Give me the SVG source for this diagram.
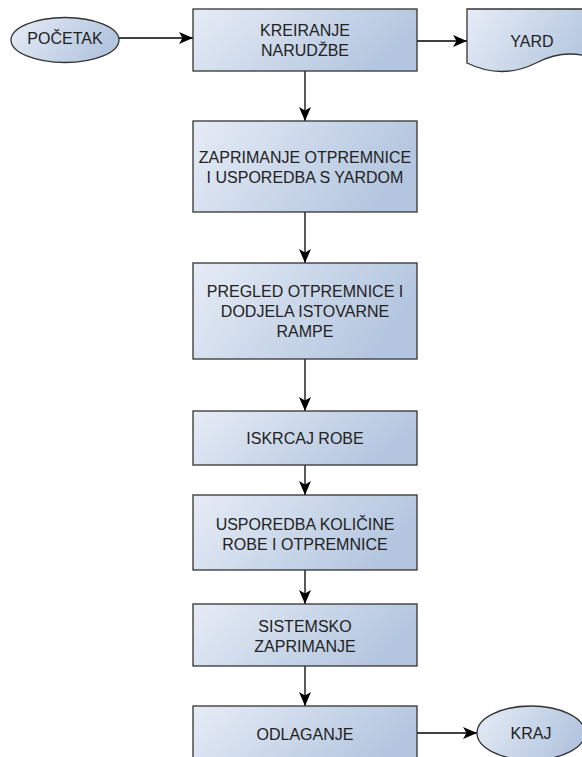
<svg xmlns="http://www.w3.org/2000/svg" width="582" height="757" viewBox="0 0 582 757">
<defs>
<linearGradient id="g" x1="0" y1="0" x2="1" y2="0.3">
<stop offset="0" stop-color="#e6ecf6"/>
<stop offset="1" stop-color="#b4c6df"/>
</linearGradient>
<marker id="ah" viewBox="0 0 14 12" refX="14" refY="6" markerWidth="14" markerHeight="12" markerUnits="userSpaceOnUse" orient="auto">
<path d="M0,0 L14,6 L0,12 L3.5,6 Z" fill="#000"/>
</marker>
</defs>
<style>
.n{fill:url(#g);stroke:#333;stroke-width:1.3}
.t{font-family:"Liberation Sans",Arial,sans-serif;font-size:16px;fill:#222;text-anchor:middle}
.c{fill:none;stroke:#000;stroke-width:1.3;marker-end:url(#ah)}
</style>
<rect width="582" height="757" fill="#fff"/>
<g id="connectors">
<path class="c" d="M119,38 H193"/>
<path class="c" d="M417,41 H467"/>
<path class="c" d="M305,71 V121"/>
<path class="c" d="M305,212 V263"/>
<path class="c" d="M305,359 V411"/>
<path class="c" d="M305,465 V495"/>
<path class="c" d="M305,570 V604"/>
<path class="c" d="M305,666 V706"/>
<path class="c" d="M417,733 H477"/>
</g>
<g id="pocetak">
<ellipse class="n" cx="65" cy="40" rx="54" ry="22.5"/>
<text class="t" x="65" y="44">POČETAK</text>
</g>
<g id="kreiranje">
<rect class="n" x="193" y="9" width="224" height="62"/>
<text class="t" x="305" y="36">KREIRANJE</text>
<text class="t" x="305" y="56">NARUDŽBE</text>
</g>
<g id="yard">
<path class="n" d="M467,9 H605 V63 Q570,45 536,63 Q502,80 467,63 Z"/>
<text class="t" x="532" y="47">YARD</text>
</g>
<g id="zaprimanje">
<rect class="n" x="193" y="121" width="224" height="91"/>
<text class="t" x="305" y="162.5">ZAPRIMANJE OTPREMNICE</text>
<text class="t" x="305" y="183">I USPOREDBA S YARDOM</text>
</g>
<g id="pregled">
<rect class="n" x="193" y="263" width="224" height="96"/>
<text class="t" x="305" y="297">PREGLED OTPREMNICE I</text>
<text class="t" x="305" y="317">DODJELA ISTOVARNE</text>
<text class="t" x="305" y="337">RAMPE</text>
</g>
<g id="iskrcaj">
<rect class="n" x="193" y="411" width="224" height="54"/>
<text class="t" x="305" y="444">ISKRCAJ ROBE</text>
</g>
<g id="usporedba">
<rect class="n" x="193" y="495" width="224" height="75"/>
<text class="t" x="305" y="530">USPOREDBA KOLIČINE</text>
<text class="t" x="305" y="550">ROBE I OTPREMNICE</text>
</g>
<g id="sistemsko">
<rect class="n" x="193" y="604" width="224" height="62"/>
<text class="t" x="305" y="632">SISTEMSKO</text>
<text class="t" x="305" y="652">ZAPRIMANJE</text>
</g>
<g id="odlaganje">
<rect class="n" x="193" y="706" width="224" height="62"/>
<text class="t" x="305" y="740">ODLAGANJE</text>
</g>
<g id="kraj">
<ellipse class="n" cx="531" cy="733" rx="54" ry="27"/>
<text class="t" x="531" y="739">KRAJ</text>
</g>
</svg>
